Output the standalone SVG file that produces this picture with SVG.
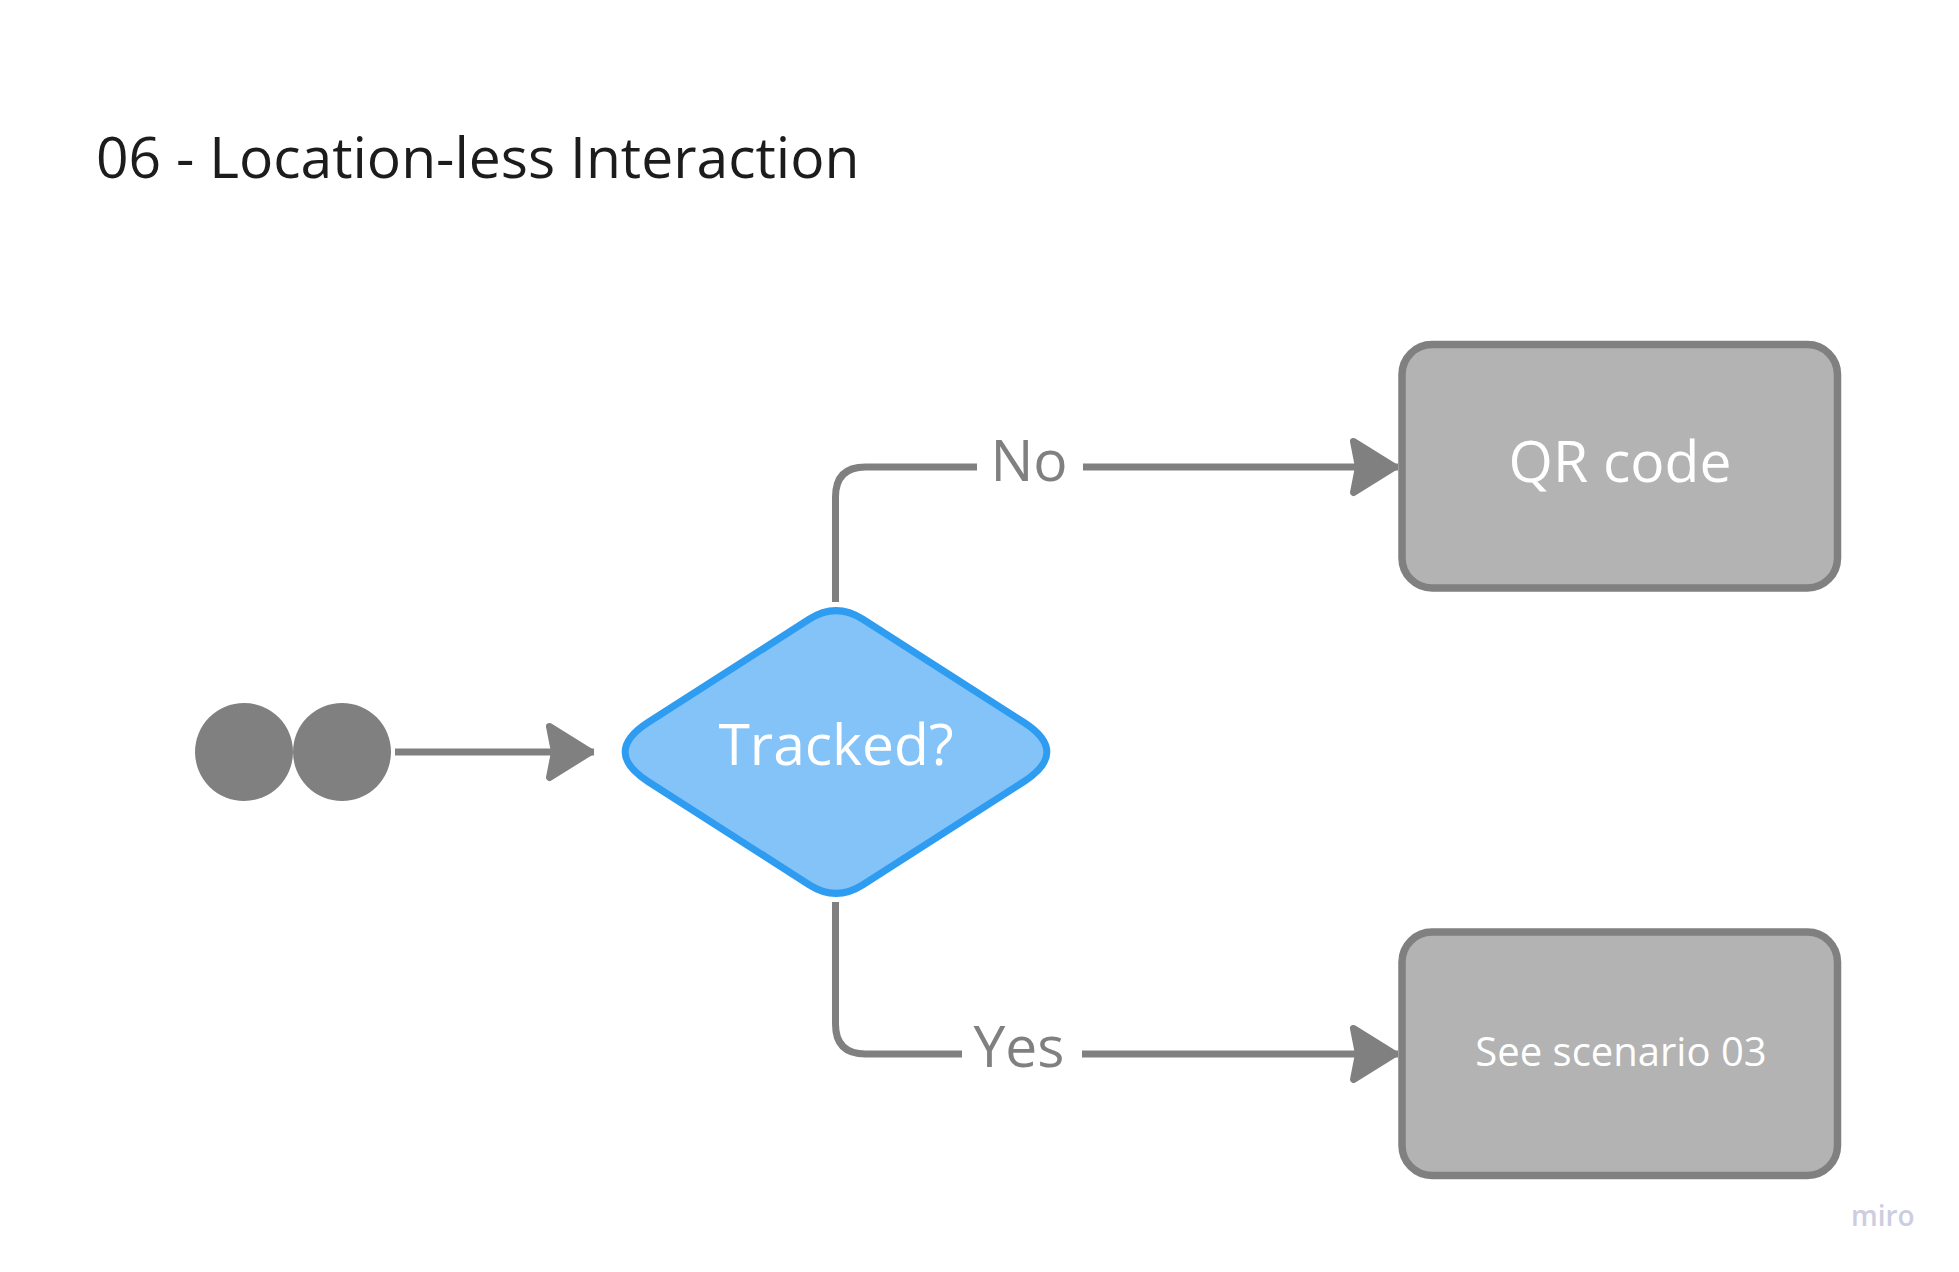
<svg xmlns="http://www.w3.org/2000/svg" width="1959" height="1272" viewBox="0 0 1959 1272">
<style>
text{font-family:"Open Sans","Liberation Sans",sans-serif}
.title{font-size:57px;fill:#1c1c1c}
.lbl{font-size:57px;fill:#808080;text-anchor:middle}
.in{fill:#ffffff;text-anchor:middle}
.box{fill:#b3b3b3;stroke:#808080;stroke-width:7.5}
.conn{fill:none;stroke:#808080;stroke-width:7}
.dot{fill:#808080}
.miro{font-size:28px;font-weight:600;fill:#cdcde0}
</style>
<defs>
<marker id="arr" markerUnits="userSpaceOnUse" orient="auto" viewBox="-52 -34 60 68" markerWidth="60" markerHeight="68" refX="3.5" refY="0">
<polygon points="-41,-25.5 0,0 -41,25.5 -36,0" fill="#808080" stroke="#808080" stroke-width="7" stroke-linejoin="round"/>
</marker>
</defs>
<rect width="1959" height="1272" fill="#ffffff"/>
<text class="title" x="96" y="178">06 - Location-less Interaction</text>

<g id="start">
<circle class="dot" cx="244" cy="752" r="49"/>
<circle class="dot" cx="342" cy="752" r="49"/>
</g>

<g id="tracked">
<path d="M809.1 619.3 Q836 602 862.9 619.3 L1023.7 722.3 Q1070 752 1023.7 781.7 L862.9 884.7 Q836 902 809.1 884.7 L648.3 781.7 Q602 752 648.3 722.3 Z" fill="#83c3f7" stroke="#2e9cf0" stroke-width="7"/>
<text class="in" x="836" y="765" font-size="57">Tracked?</text>
</g>

<g id="qr">
<rect class="box" x="1402" y="344.5" width="435.5" height="243.5" rx="30"/>
<text class="in" x="1620" y="481.5" font-size="57">QR code</text>
</g>

<g id="scenario">
<rect class="box" x="1402" y="932" width="435.5" height="243.5" rx="30"/>
<text class="in" x="1621" y="1065.5" font-size="40">See scenario 03</text>
</g>

<g id="connectors">
<line class="conn" x1="395" y1="752" x2="594" y2="752" marker-end="url(#arr)"/>
<path class="conn" d="M835.5 602 V497 Q835.5 467 865.5 467 H977"/>
<line class="conn" x1="1083" y1="467" x2="1398" y2="467" marker-end="url(#arr)"/>
<text class="lbl" x="1029" y="480.5">No</text>
<path class="conn" d="M835.5 902 V1024 Q835.5 1054 865.5 1054 H962"/>
<line class="conn" x1="1082" y1="1054" x2="1398" y2="1054" marker-end="url(#arr)"/>
<text class="lbl" x="1019" y="1067">Yes</text>
</g>

<text class="miro" x="1851" y="1226">miro</text>
</svg>
